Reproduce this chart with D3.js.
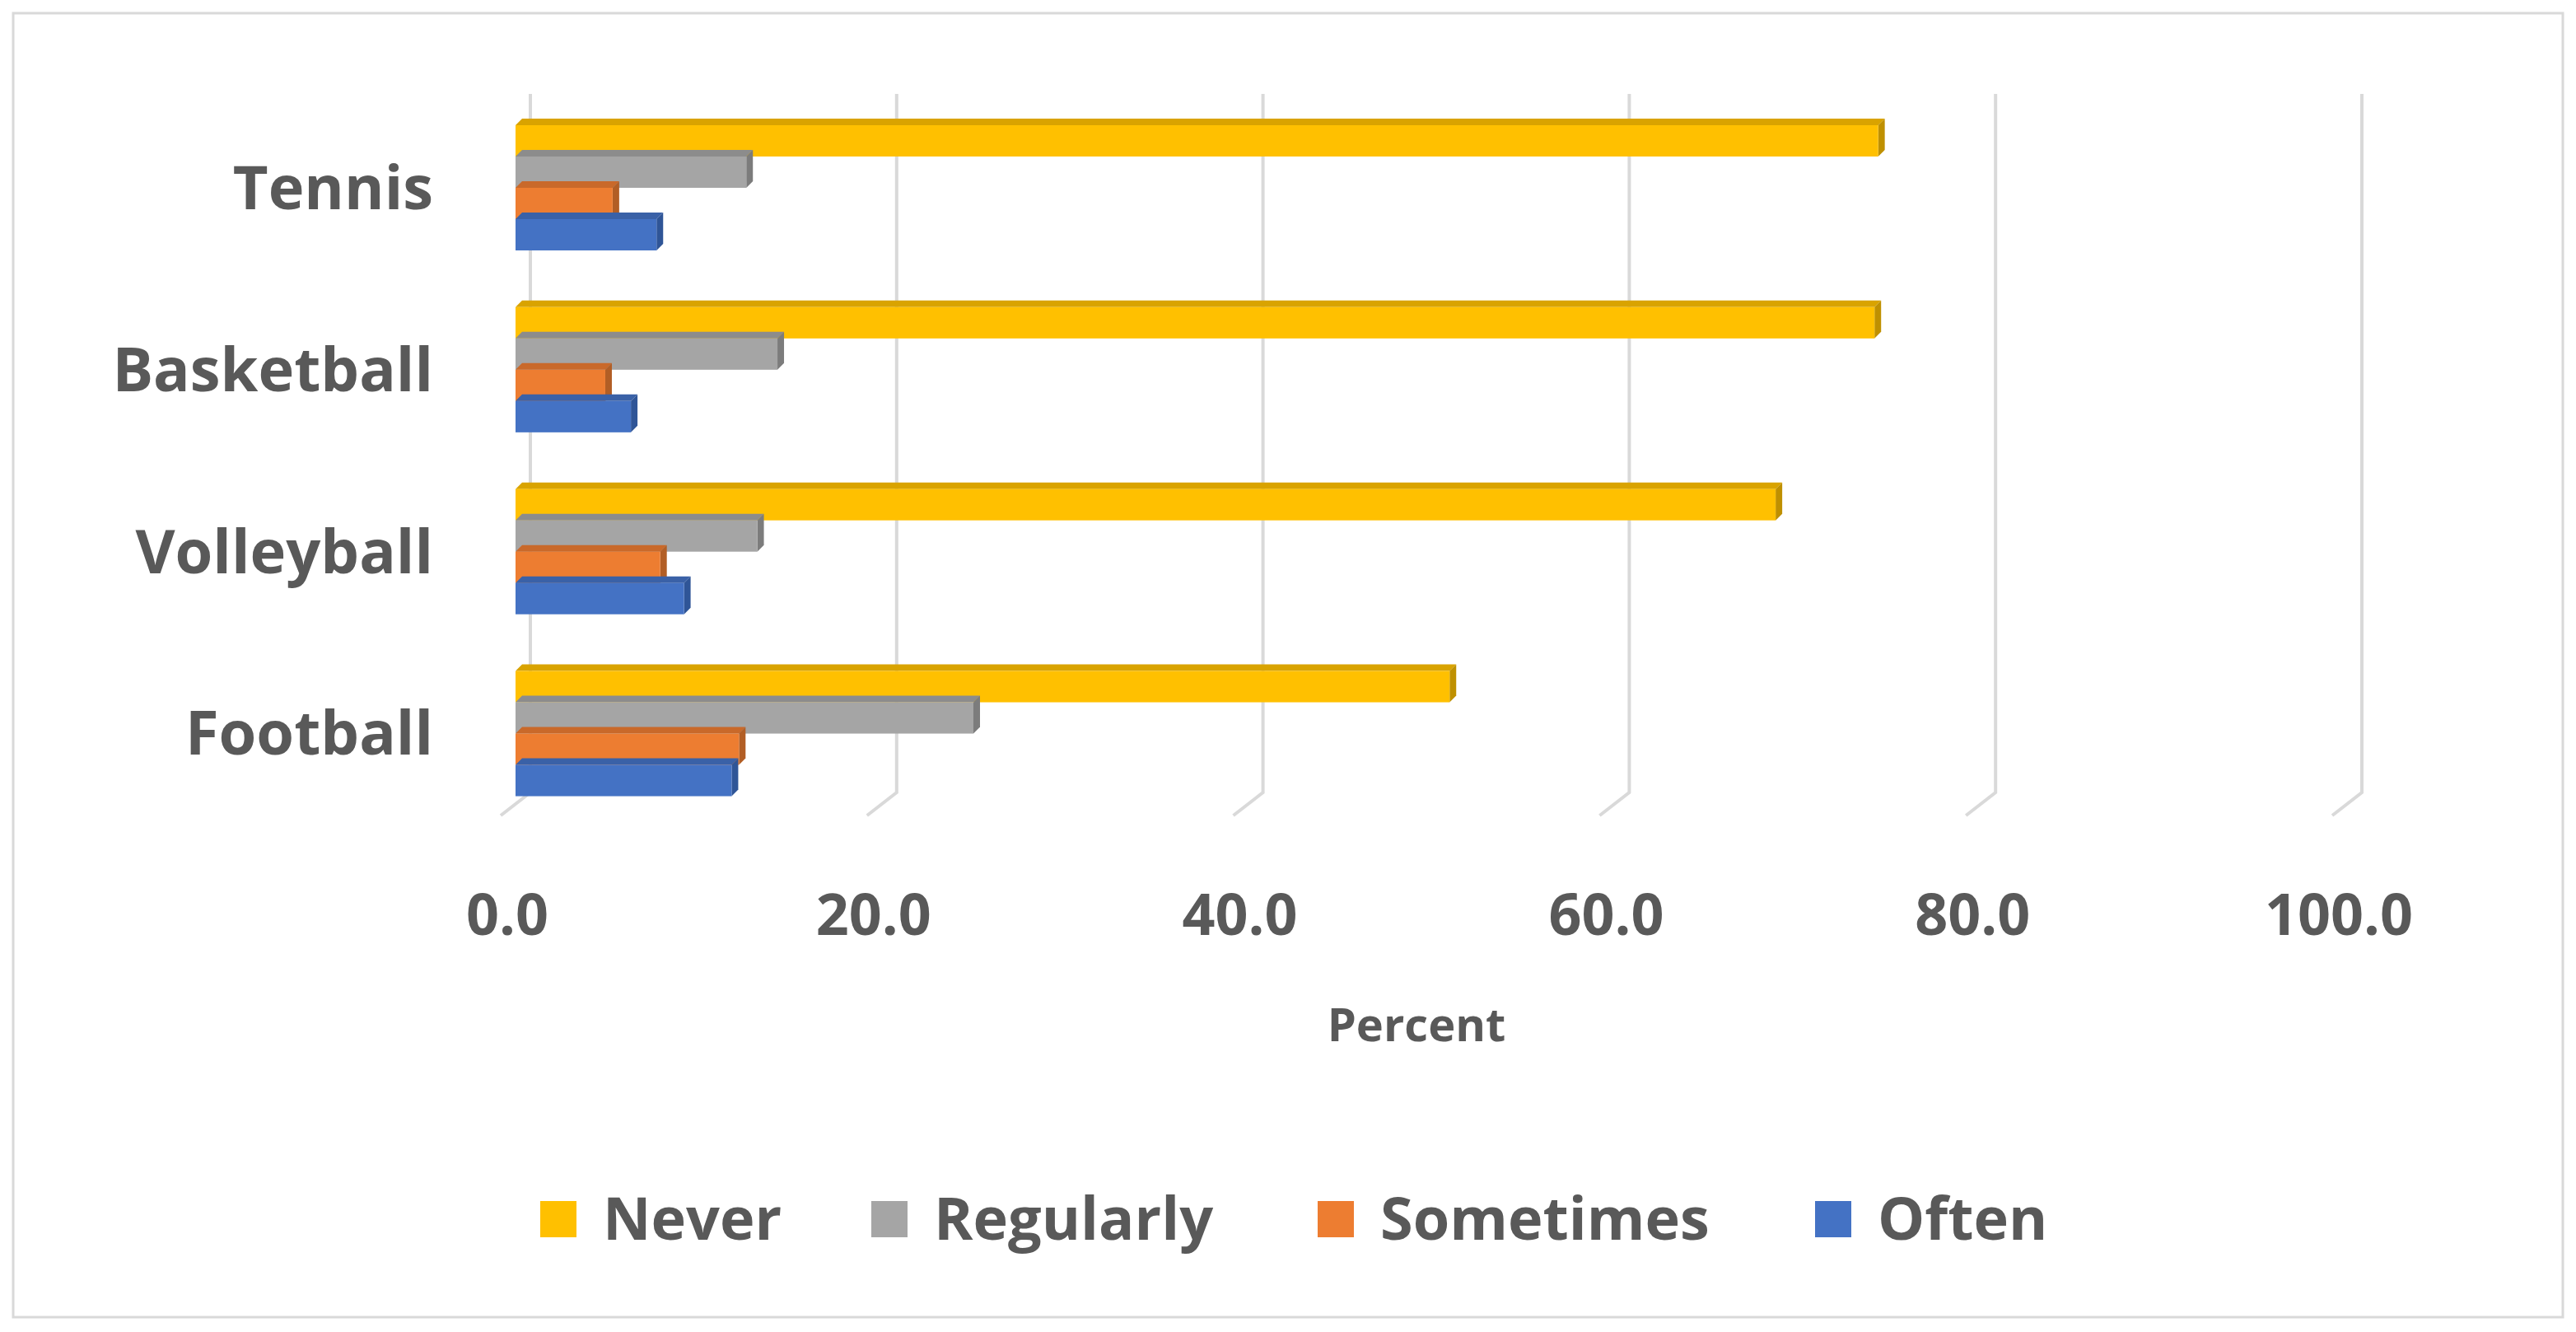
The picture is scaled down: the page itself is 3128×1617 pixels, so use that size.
<!DOCTYPE html>
<html><head><meta charset="utf-8">
<script src="https://cdn.jsdelivr.net/npm/d3@7"></script>
<style>body{margin:0;background:#fff}svg{display:block}</style>
</head><body>
<script>
const categories = ["Tennis","Basketball","Volleyball","Football"];
const seriesNames = ["Never","Regularly","Sometimes","Often"];
const never = [74.4, 74.2, 68.8, 51.0];
const regularly = [12.6, 14.3, 13.2, 25.0];
const sometimes = [5.3, 4.9, 7.9, 12.2];
const often = [7.7, 6.3, 9.2, 11.8];
const tickValues = [0,20,40,60,80,100];
const colors = ["#FFC000","#A5A5A5","#ED7D31","#4472C4"];
const tops = ["#D9A300","#8C8C8C","#C9692A","#3A61A7"];
const sides = ["#BF9000","#7C7C7C","#B25E25","#2F5597"];
const values = [never, regularly, sometimes, often];

const W=3128,H=1617;
const svg=d3.select("body").append("svg").attr("width",W).attr("height",H);
svg.append("rect").attr("x",16).attr("y",16).attr("width",W-32).attr("height",H-34)
  .attr("fill","#fff").attr("stroke","#D9D9D9").attr("stroke-width",3);
const x=d3.scaleLinear().domain([0,100]).range([626,2850]);
const y=d3.scaleBand().domain(categories).range([152,1010]).paddingInner(0.115).paddingOuter(0.0);
const sub=d3.scaleBand().domain(seriesNames).range([0,152]);
const D=8;
// grid
tickValues.forEach(v=>{
  const gx=x(v)+18;
  svg.append("path").attr("d",`M${gx},114 L${gx},962 L${gx-36},990`)
    .attr("fill","none").attr("stroke","#D9D9D9").attr("stroke-width",4);
});
// bars
categories.forEach((c,ci)=>{
  seriesNames.forEach((s,si)=>{
    const v=values[si][ci];
    const x0=x(0), x1=x(v), yt=y(c)+sub(s), h=sub.bandwidth();
    const g=svg.append("g");
    g.append("polygon").attr("points",`${x0},${yt} ${x0+D},${yt-D} ${x1+D},${yt-D} ${x1},${yt}`).attr("fill",tops[si]);
    g.append("polygon").attr("points",`${x1},${yt} ${x1+D},${yt-D} ${x1+D},${yt+h-D} ${x1},${yt+h}`).attr("fill",sides[si]);
    g.append("rect").attr("x",x0).attr("y",yt).attr("width",x1-x0).attr("height",h).attr("fill",colors[si]);
  });
});
const font="'Open Sans', 'Liberation Sans', sans-serif";
// category labels
categories.forEach(c=>{
  svg.append("text").attr("x",526).attr("y",y(c)+76).attr("dy","0.35em").attr("text-anchor","end")
    .attr("font-family",font).attr("font-weight","bold").attr("font-size",74).attr("fill","#595959").text(c);
});
// tick labels
tickValues.forEach(v=>{
  svg.append("text").attr("x",x(v)-10).attr("y",1110).attr("dy","0.35em").attr("text-anchor","middle")
    .attr("font-family",font).attr("font-weight","bold").attr("font-size",70).attr("fill","#595959").text(d3.format(".1f")(v));
});
svg.append("text").attr("x",1720).attr("y",1244).attr("dy","0.35em").attr("text-anchor","middle")
  .attr("font-family",font).attr("font-weight","bold").attr("font-size",56).attr("fill","#595959").text("Percent");
// legend
const lx=[656,1058,1600,2204];
seriesNames.forEach((s,i)=>{
  svg.append("rect").attr("x",lx[i]).attr("y",1458).attr("width",44).attr("height",44).attr("fill",colors[i]);
  svg.append("text").attr("x",lx[i]+76).attr("y",1480).attr("dy","0.35em")
    .attr("font-family",font).attr("font-weight","bold").attr("font-size",72).attr("fill","#595959").text(s);
});
</script>
</body></html>
